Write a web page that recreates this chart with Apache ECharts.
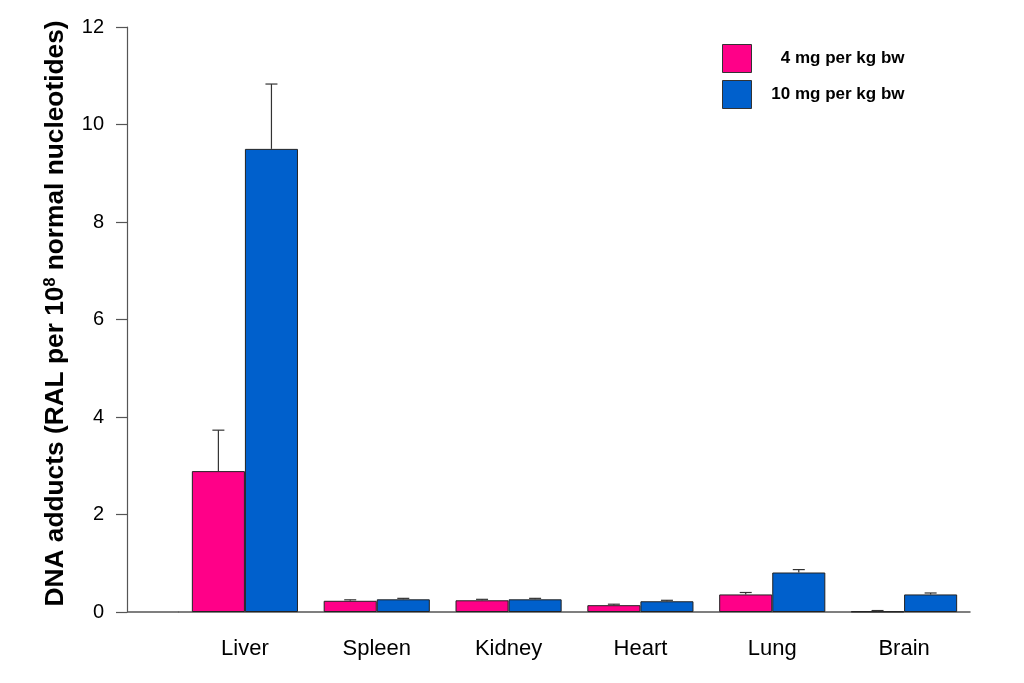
<!DOCTYPE html>
<html>
<head>
<meta charset="utf-8">
<script src="https://cdn.jsdelivr.net/npm/echarts@6/dist/echarts.min.js"></script>
<style>html,body{margin:0;padding:0;background:#fff}#c{width:1024px;height:683px}</style>
</head>
<body>
<div id="c"></div>
<script>
const categories = ['Liver', 'Spleen', 'Kidney', 'Heart', 'Lung', 'Brain'];
const seriesNames = ['4 mg per kg bw', '10 mg per kg bw'];
const dose4 = [2.89, 0.23, 0.24, 0.14, 0.36, 0.01];
const dose4Err = [0.84, 0.02, 0.02, 0.02, 0.04, 0.02];
const dose10 = [9.50, 0.26, 0.26, 0.22, 0.81, 0.36];
const dose10Err = [1.33, 0.02, 0.02, 0.02, 0.06, 0.03];
const yTicks = [0, 2, 4, 6, 8, 10, 12];

const FONT = 'Liberation Sans, Arial, sans-serif';
const PINK = '#FF0088';
const BLUE = '#0060CC';
const AXIS = '#555';
const CAT_GAP = 0.195;

const chart = echarts.init(document.getElementById('c'));

function errSeries(name, vals, errs, side) {
  return {
    type: 'custom',
    name: name + ' err',
    z: 5,
    silent: true,
    data: vals.map((v, i) => [i, v, v + errs[i]]),
    renderItem: function (params, api) {
      const band = api.size([1, 0])[0];
      const bw = band * (1 - CAT_GAP) / 2;
      const c = api.coord([api.value(0), api.value(1)]);
      const t = api.coord([api.value(0), api.value(2)]);
      const x = c[0] + side * bw / 2;
      const cap = 6;
      const st = { stroke: '#333', lineWidth: 1.2 };
      return { type: 'group', children: [
        { type: 'line', shape: { x1: x, y1: c[1], x2: x, y2: t[1] }, style: st },
        { type: 'line', shape: { x1: x - cap, y1: t[1], x2: x + cap, y2: t[1] }, style: st }
      ]};
    }
  };
}

chart.setOption({
  backgroundColor: '#fff',
  animation: false,
  textStyle: { fontFamily: FONT },
  grid: { left: 179, right: 54, top: 27, bottom: 71 },
  legend: {
    data: seriesNames,
    orient: 'vertical',
    left: 717,
    top: 39,
    itemWidth: 29,
    itemHeight: 28,
    itemGap: 7,
    icon: 'rect',
    formatter: name => '{t|' + name + '}',
    textStyle: { fontFamily: FONT, fontWeight: 'bold', fontSize: 17, color: '#000',
      rich: { t: { width: 148, align: 'right', fontFamily: FONT, fontWeight: 'bold', fontSize: 17, color: '#000' } } },
    itemStyle: { borderColor: '#333', borderWidth: 1 }
  },
  xAxis: {
    type: 'category',
    data: categories,
    axisLine: { lineStyle: { color: AXIS, width: 1.5 } },
    axisTick: { alignWithLabel: true, length: 8, lineStyle: { color: AXIS, width: 1.2 } },
    axisLabel: { fontSize: 22, color: '#000', margin: 26, fontFamily: FONT }
  },
  yAxis: {
    type: 'value',
    min: 0, max: 12, interval: 2,
    offset: 52,
    name: 'DNA adducts (RAL per 10{sup|8} normal nucleotides)',
    nameLocation: 'middle',
    nameGap: 50,
    nameRotate: 90,
    nameTextStyle: {
      fontSize: 26.3, fontWeight: 'bold', color: '#000', fontFamily: FONT, padding: [0, 0, 0, 12],
      rich: { sup: { fontSize: 16, fontWeight: 'bold', verticalAlign: 'top', lineHeight: 16, padding: [0, 0, 12, 0] } }
    },
    splitLine: { show: false },
    axisLine: { show: true, lineStyle: { color: AXIS, width: 1.2 } },
    axisTick: { show: true, length: 11, lineStyle: { color: AXIS, width: 1.2 } },
    axisLabel: { fontSize: 20, color: '#000', margin: 23, fontFamily: FONT,
      formatter: v => yTicks.includes(v) ? String(v) : '' }
  },
  series: [
    { type: 'bar', name: seriesNames[0], data: dose4, barGap: '0%', barCategoryGap: (CAT_GAP * 100) + '%',
      itemStyle: { color: PINK, borderColor: '#222', borderWidth: 1 } },
    { type: 'bar', name: seriesNames[1], data: dose10, barGap: '0%', barCategoryGap: (CAT_GAP * 100) + '%',
      itemStyle: { color: BLUE, borderColor: '#222', borderWidth: 1 } },
    errSeries(seriesNames[0], dose4, dose4Err, -1),
    errSeries(seriesNames[1], dose10, dose10Err, 1)
  ]
});

// extend the baseline leftwards to the offset y-axis
const p0 = chart.convertToPixel({ xAxisIndex: 0, yAxisIndex: 0 }, [0, 0]);
chart.setOption({
  graphic: [{
    type: 'line', z: 10,
    shape: { x1: 179 - 52, y1: p0[1], x2: 179, y2: p0[1] },
    style: { stroke: AXIS, lineWidth: 1.5 }
  }]
});
</script>
</body>
</html>
